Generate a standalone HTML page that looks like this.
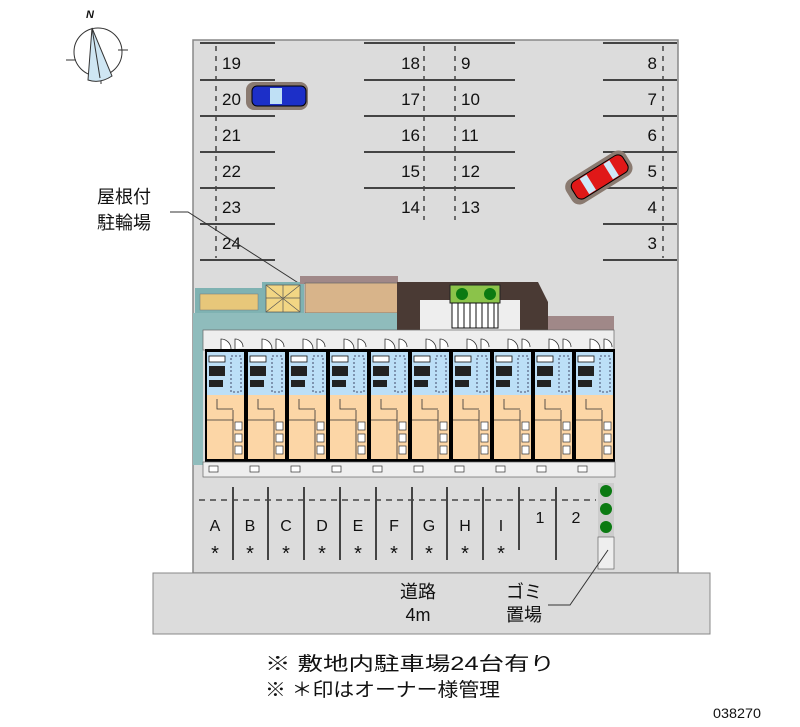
<!DOCTYPE html>
<html><head><meta charset="utf-8"><style>
html,body{margin:0;padding:0;background:#fff;width:800px;height:727px;overflow:hidden}
svg{display:block}
text{font-family:"Liberation Sans","Noto Sans CJK JP",sans-serif;fill:#111}
</style></head><body>
<svg width="800" height="727" viewBox="0 0 800 727" xmlns="http://www.w3.org/2000/svg">
<defs>
<g id="unit">
<rect x="0" y="0" width="37" height="43" fill="#bcdff7"/>
<rect x="0" y="43" width="37" height="64" fill="#fcd6a6"/>
<rect x="2" y="4" width="16" height="6" fill="#fff" stroke="#111" stroke-width="0.8"/>
<rect x="2" y="14" width="16" height="10" fill="#222"/>
<rect x="2" y="28" width="14" height="7" fill="#222"/>
<rect x="24" y="4" width="10" height="36" fill="none" stroke="#224" stroke-width="0.8" stroke-dasharray="2,2"/>
<path d="M26 58v49M0 68h26M10 47v10h16" stroke="#333" stroke-width="0.8" fill="none"/>
<rect x="28" y="70" width="7" height="8" fill="#fff" stroke="#333" stroke-width="0.7"/>
<rect x="28" y="82" width="7" height="8" fill="#fff" stroke="#333" stroke-width="0.7"/>
<rect x="28" y="94" width="7" height="8" fill="#fff" stroke="#333" stroke-width="0.7"/>
<path d="M14 -3v-10a10 10 0 0 1 10 10M28 -3v-10a8 8 0 0 1 8 8" stroke="#333" stroke-width="0.8" fill="#fff"/>
<rect x="2" y="114" width="9" height="6" fill="#fff" stroke="#333" stroke-width="0.7"/>
</g>
</defs>
<rect x="193" y="40" width="485" height="533" fill="#dcdcdc" stroke="#888" stroke-width="1.5"/>
<g stroke="#333" fill="none" stroke-width="1">
<circle cx="98" cy="52" r="24"/>
<line x1="66" y1="60" x2="76" y2="60"/><line x1="118" y1="50" x2="128" y2="50"/><line x1="101" y1="76" x2="101" y2="84"/>
<path d="M92 28 L88 80 Q100 84 112 76 Z" fill="#cfe6f3"/><line x1="92" y1="28" x2="100" y2="78"/>
</g>
<text x="86" y="18" font-size="11" font-style="italic" font-weight="bold" font-family="Liberation Serif,serif">N</text>
<g stroke="#444" stroke-width="2">
<line x1="200" y1="43" x2="275" y2="43"/><line x1="200" y1="80" x2="275" y2="80"/><line x1="200" y1="116" x2="275" y2="116"/><line x1="200" y1="152" x2="275" y2="152"/><line x1="200" y1="188" x2="275" y2="188"/><line x1="200" y1="224" x2="275" y2="224"/><line x1="200" y1="260" x2="275" y2="260"/>
<line x1="364" y1="43" x2="515" y2="43"/><line x1="364" y1="80" x2="515" y2="80"/><line x1="364" y1="116" x2="515" y2="116"/><line x1="364" y1="152" x2="515" y2="152"/><line x1="364" y1="188" x2="515" y2="188"/>
<line x1="603" y1="43" x2="677" y2="43"/><line x1="603" y1="80" x2="677" y2="80"/><line x1="603" y1="116" x2="677" y2="116"/><line x1="603" y1="152" x2="677" y2="152"/><line x1="603" y1="188" x2="677" y2="188"/><line x1="603" y1="224" x2="677" y2="224"/><line x1="603" y1="260" x2="677" y2="260"/>
</g>
<g stroke="#444" stroke-width="1.5" stroke-dasharray="5,5">
<line x1="216" y1="46" x2="216" y2="258"/><line x1="424" y1="46" x2="424" y2="220"/><line x1="455" y1="46" x2="455" y2="220"/><line x1="663" y1="46" x2="663" y2="258"/>
</g>
<g font-size="17">
<text x="222" y="69">19</text><text x="222" y="105">20</text><text x="222" y="141">21</text><text x="222" y="177">22</text><text x="222" y="213">23</text><text x="222" y="249">24</text>
<g text-anchor="end"><text x="420" y="69">18</text><text x="420" y="105">17</text><text x="420" y="141">16</text><text x="420" y="177">15</text><text x="420" y="213">14</text>
<text x="657" y="69">8</text><text x="657" y="105">7</text><text x="657" y="141">6</text><text x="657" y="177">5</text><text x="657" y="213">4</text><text x="657" y="249">3</text></g>
<text x="461" y="69">9</text><text x="461" y="105">10</text><text x="461" y="141">11</text><text x="461" y="177">12</text><text x="461" y="213">13</text>
</g>
<rect x="246" y="82" width="62" height="28" rx="8" fill="#8a7a70"/>
<rect x="252" y="86" width="54" height="20" rx="5" fill="#1c2fc8" stroke="#000"/>
<rect x="270" y="88" width="12" height="16" fill="#bfe0f5"/>
<g transform="rotate(-32 598 178)">
<rect x="564" y="164" width="70" height="28" rx="9" fill="#8a7a70"/>
<rect x="570" y="168" width="60" height="20" rx="6" fill="#e01818" stroke="#000"/>
<rect x="582" y="169" width="8" height="18" fill="#cfe8f8"/><rect x="610" y="169" width="7" height="18" fill="#cfe8f8"/>
</g>
<text x="97" y="203" font-size="18">屋根付</text>
<text x="97" y="229" font-size="18">駐輪場</text>
<polyline points="170,212 188,212 300,284" fill="none" stroke="#333" stroke-width="1"/>
<rect x="195" y="288" width="68" height="25" fill="#7fb2b2"/>
<rect x="200" y="294" width="58" height="16" fill="#e7c77a" stroke="#777" stroke-width="0.5"/>
<rect x="262" y="282" width="42" height="33" fill="#7fb2b2"/>
<rect x="266" y="285" width="34" height="27" fill="#f2d684" stroke="#555" stroke-width="0.7"/>
<path d="M266 285 L300 312 M300 285 L266 312 M283 285 V312 M266 298 H300" stroke="#555" stroke-width="0.7"/>
<rect x="300" y="276" width="98" height="8" fill="#a08888"/>
<rect x="305" y="283" width="93" height="30" fill="#d8b48a" stroke="#666" stroke-width="0.7"/>
<rect x="195" y="313" width="205" height="18" fill="#8fbcbc"/>
<path d="M397 282 H538 L548 302 V330 H397 Z" fill="#4a3a34"/>
<rect x="420" y="300" width="100" height="30" fill="#eee"/>
<rect x="450" y="285" width="50" height="18" fill="#8bc34a" stroke="#222"/>
<circle cx="462" cy="294" r="6" fill="#0b7a12"/><circle cx="490" cy="294" r="6" fill="#0b7a12"/>
<rect x="452" y="303" width="46" height="25" fill="#fff" stroke="#111"/>
<path d="M458 303V328M464 303V328M470 303V328M476 303V328M482 303V328M488 303V328M494 303V328" stroke="#111"/>
<rect x="548" y="316" width="66" height="14" fill="#a08888"/>
<rect x="193" y="313" width="10" height="152" fill="#8fbcbc"/>
<rect x="203" y="330" width="411" height="20" fill="#eee" stroke="#666" stroke-width="0.7"/>
<rect x="205" y="349" width="410" height="113" fill="#000"/>
<rect x="203" y="462" width="412" height="15" fill="#eee" stroke="#666" stroke-width="0.7"/>
<use href="#unit" x="207" y="352"/><use href="#unit" x="248" y="352"/><use href="#unit" x="289" y="352"/><use href="#unit" x="330" y="352"/><use href="#unit" x="371" y="352"/>
<use href="#unit" x="412" y="352"/><use href="#unit" x="453" y="352"/><use href="#unit" x="494" y="352"/><use href="#unit" x="535" y="352"/><use href="#unit" x="576" y="352"/>
<line x1="199" y1="500" x2="596" y2="500" stroke="#444" stroke-width="1.5" stroke-dasharray="6,5"/>
<g stroke="#444" stroke-width="2">
<line x1="233" y1="487" x2="233" y2="560"/><line x1="268" y1="487" x2="268" y2="560"/><line x1="304" y1="487" x2="304" y2="560"/><line x1="340" y1="487" x2="340" y2="560"/><line x1="376" y1="487" x2="376" y2="560"/><line x1="412" y1="487" x2="412" y2="560"/><line x1="447" y1="487" x2="447" y2="560"/><line x1="483" y1="487" x2="483" y2="560"/><line x1="519" y1="487" x2="519" y2="550"/><line x1="556" y1="487" x2="556" y2="560"/>
</g>
<g font-size="16" text-anchor="middle">
<text x="215" y="531">A</text><text x="250" y="531">B</text><text x="286" y="531">C</text><text x="322" y="531">D</text><text x="358" y="531">E</text><text x="394" y="531">F</text><text x="429" y="531">G</text><text x="465" y="531">H</text><text x="501" y="531">I</text>
<text x="540" y="523">1</text><text x="576" y="523">2</text>
</g>
<g font-size="20" text-anchor="middle">
<text x="215" y="560">*</text><text x="250" y="560">*</text><text x="286" y="560">*</text><text x="322" y="560">*</text><text x="358" y="560">*</text><text x="394" y="560">*</text><text x="429" y="560">*</text><text x="465" y="560">*</text><text x="501" y="560">*</text>
</g>
<rect x="598" y="483" width="16" height="54" fill="#ccc"/>
<circle cx="606" cy="491" r="6" fill="#0b7a12"/><circle cx="606" cy="509" r="6" fill="#0b7a12"/><circle cx="606" cy="527" r="6" fill="#0b7a12"/>
<rect x="598" y="537" width="16" height="32" fill="#eee" stroke="#666" stroke-width="0.7"/>
<rect x="153" y="573" width="557" height="61" fill="#dcdcdc" stroke="#888" stroke-width="1"/>
<text x="418" y="598" font-size="18" text-anchor="middle">道路</text>
<text x="418" y="621" font-size="18" text-anchor="middle">4m</text>
<text x="524" y="598" font-size="18" text-anchor="middle">ゴミ</text>
<text x="524" y="621" font-size="18" text-anchor="middle">置場</text>
<polyline points="548,605 570,605 608,550" fill="none" stroke="#333" stroke-width="1"/>
<text x="265" y="670" font-size="19" textLength="290" lengthAdjust="spacingAndGlyphs">※ 敷地内駐車場24台有り</text>
<text x="265" y="696" font-size="19" textLength="235" lengthAdjust="spacingAndGlyphs">※  ＊印はオーナー様管理</text>
<text x="713" y="718" font-size="14" textLength="48" lengthAdjust="spacingAndGlyphs">038270</text>
</svg>
</body></html>
